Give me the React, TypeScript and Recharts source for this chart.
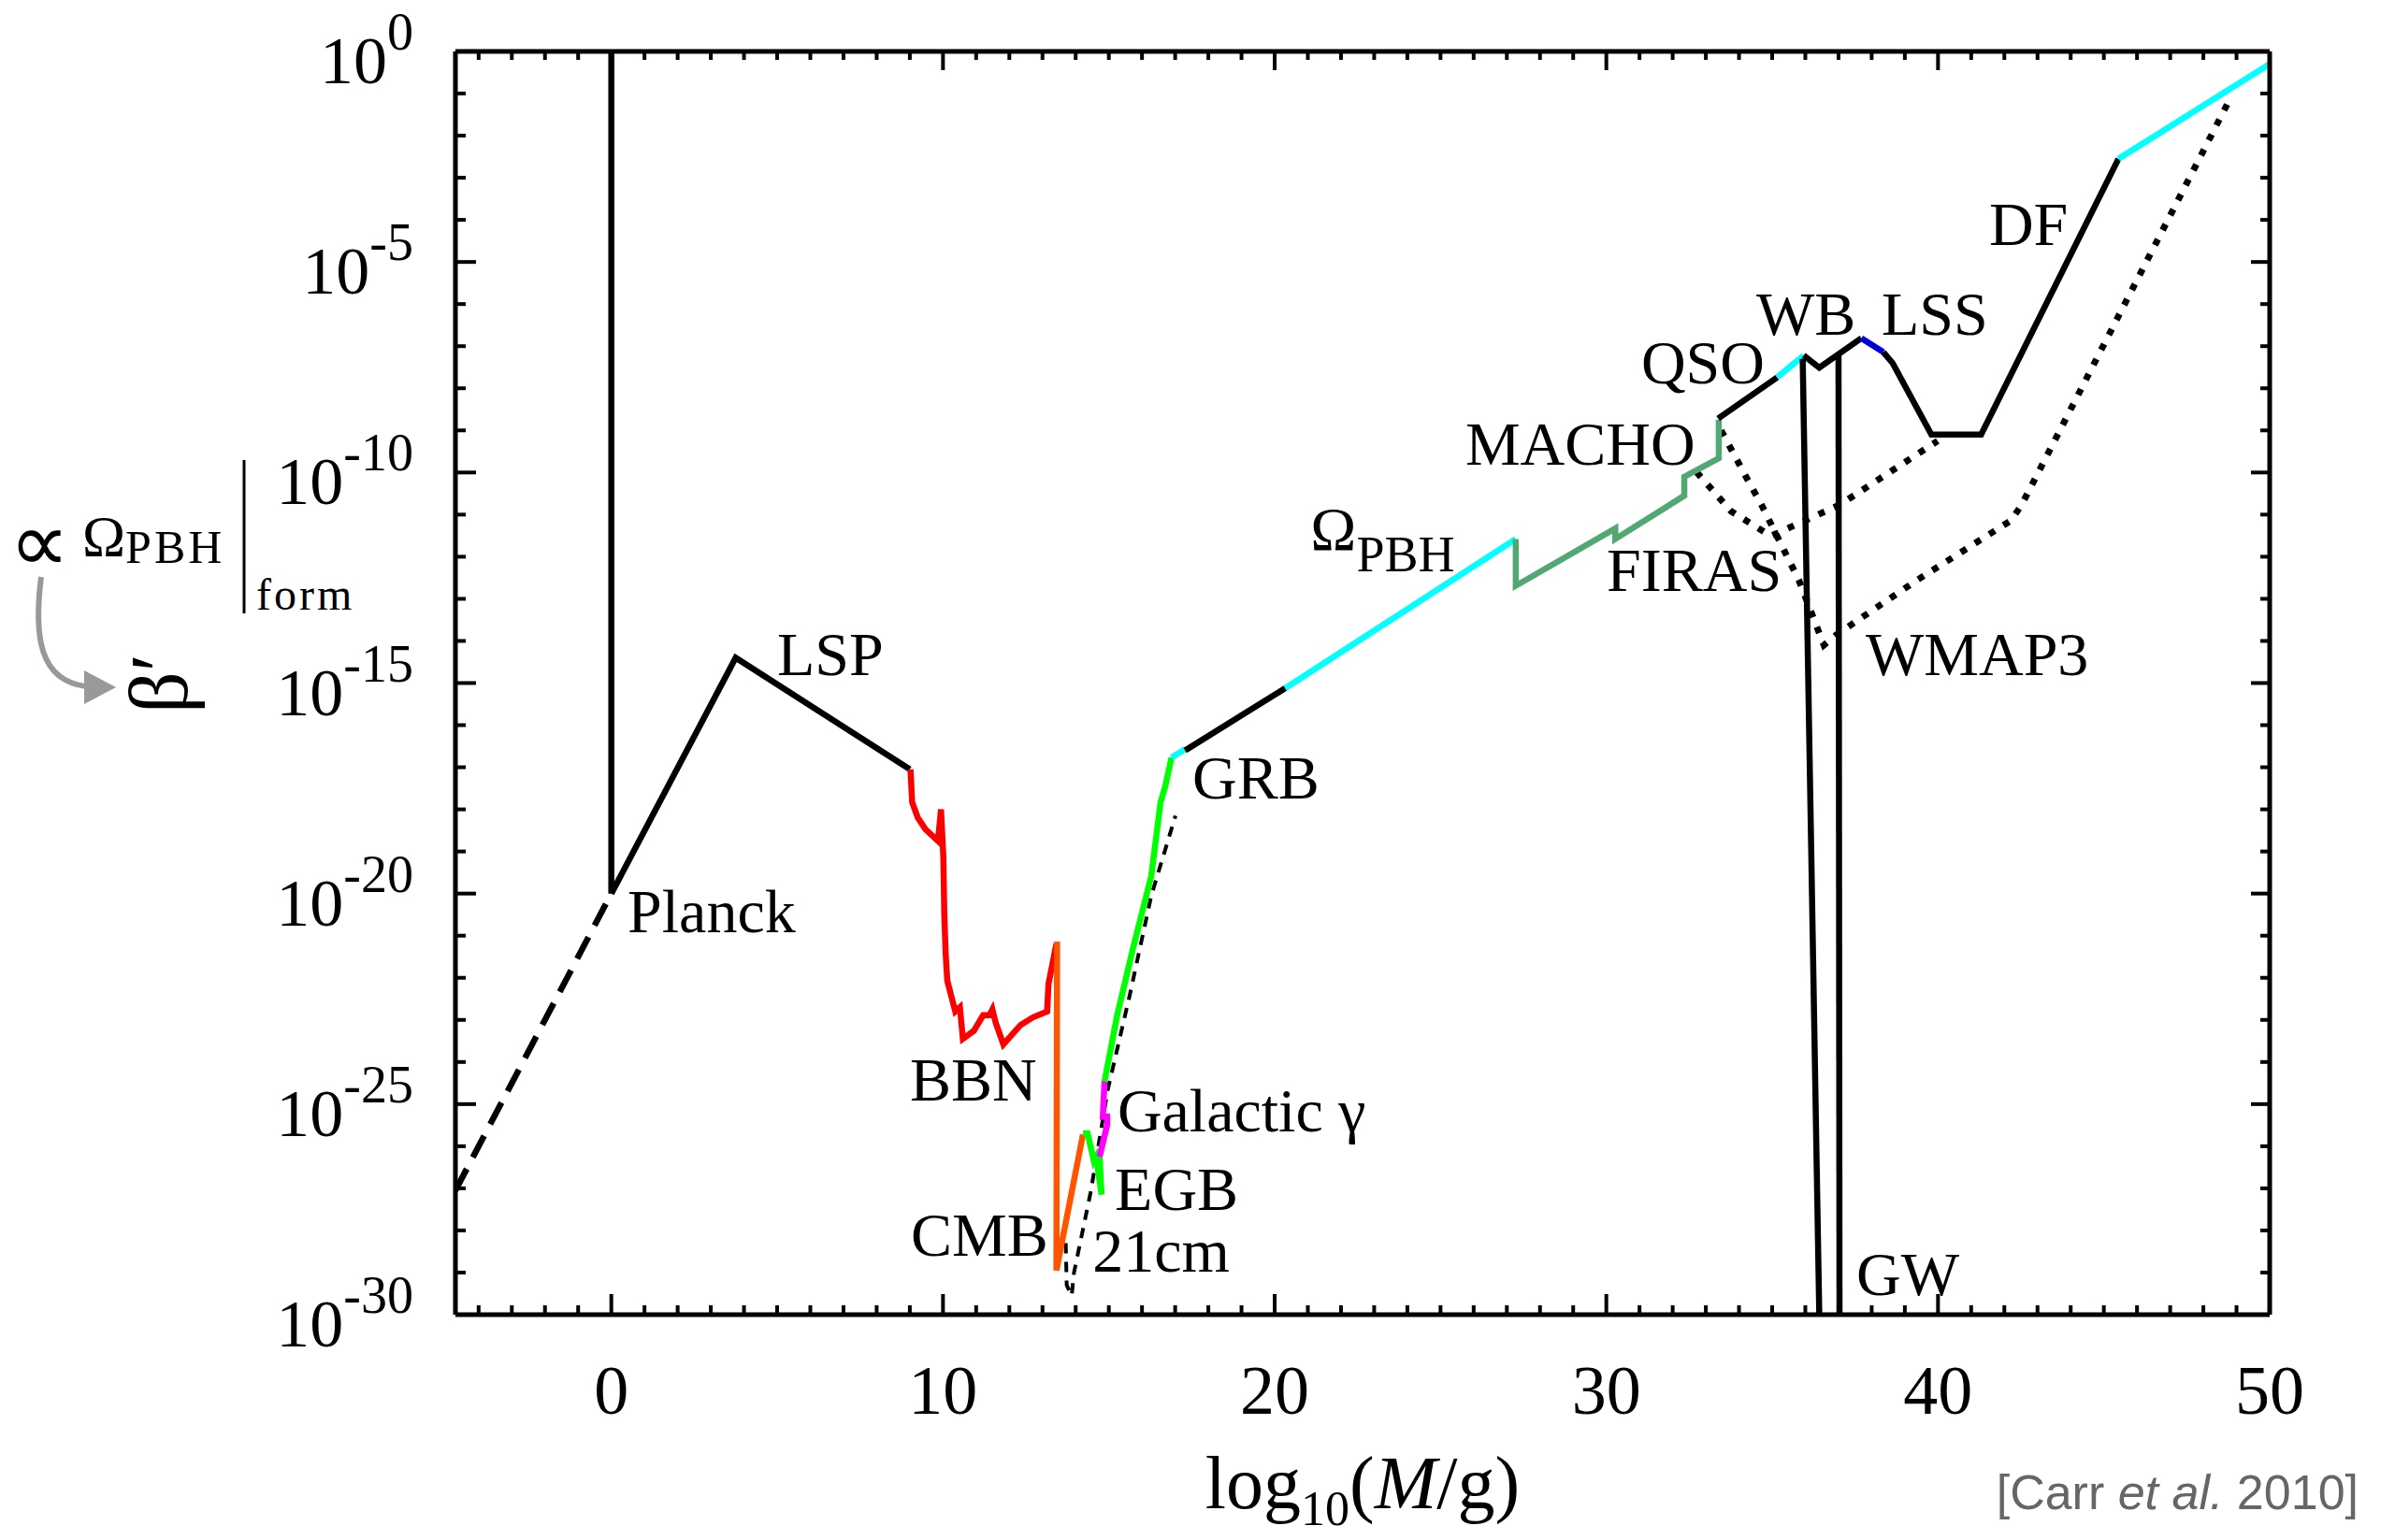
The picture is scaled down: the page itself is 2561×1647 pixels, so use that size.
import React from 'react';
import { LineChart, Line, XAxis, YAxis, ReferenceDot } from 'recharts';

const SERIF = "'Liberation Serif', 'DejaVu Serif', 'Times New Roman', serif";
const SANS = "'Liberation Sans', Arial, sans-serif";

// Each constraint is a list of [log10(M/g), log10(beta')] points
const planckExtrapolation = [[-4.7, -27.05], [0, -20]];
const planckWall = [[0, 0], [0, -20]];
const lspBound = [[0, -20], [3.75, -14.4], [9.0, -17.05]];
const bbnBound = [
  [9.02, -17.05], [9.07, -17.83], [9.24, -18.2], [9.47, -18.47], [9.85, -18.75],
  [9.94, -18.0], [10.01, -19.12], [10.04, -20.5], [10.08, -21.42], [10.13, -22.07],
  [10.37, -22.8], [10.51, -22.7], [10.6, -23.45], [10.93, -23.26], [11.21, -22.89],
  [11.4, -22.89], [11.49, -22.75], [11.59, -23.07], [11.82, -23.58], [12.34, -23.12],
  [12.71, -22.94], [13.14, -22.8], [13.18, -22.15], [13.42, -21.19],
];
const cmbBound = [[13.44, -21.14], [13.42, -28.95], [14.22, -25.72]];
const egbBound = [[14.22, -25.7], [14.36, -25.7], [14.55, -26.35], [14.62, -26.25], [14.78, -27.15], [14.72, -26.25]];
const galacticBound = [[14.72, -26.25], [14.95, -25.5], [14.95, -25.3], [14.82, -25.3], [14.87, -24.45]];
const gammaBound = [
  [14.87, -24.46], [15.25, -22.89], [15.39, -22.43], [15.72, -21.33],
  [16.28, -19.58], [16.56, -17.83], [16.7, -17.46], [16.89, -16.77],
];
const grbCyan = [[16.89, -16.77], [17.3, -16.57]];
const grbBound = [[17.3, -16.6], [20.32, -15.12]];
const omegaBound = [[20.32, -15.12], [27.27, -11.58]];
const machoBound = [
  [27.27, -11.58], [27.27, -12.69], [30.27, -11.33], [30.27, -11.58],
  [32.35, -10.55], [32.35, -10.1], [33.39, -9.66], [33.39, -8.75],
];
const qsoBound = [[33.37, -8.72], [35.15, -7.74]];
const qsoCyan = [[35.15, -7.74], [35.95, -7.22]];
const wbBound = [[35.95, -7.22], [36.42, -7.51], [37.69, -6.81]];
const lssBlue = [[37.69, -6.81], [38.35, -7.14]];
const lssBound = [[38.35, -7.14], [38.63, -7.4], [39.8, -9.1], [41.3, -9.1], [45.44, -2.55]];
const dfCyan = [[45.44, -2.55], [50, -0.3]];
const gwLeft = [[35.92, -7.3], [36.42, -30]];
const gwRight = [[37.0, -7.2], [37.03, -30]];
const wmap3Bound = [
  [33.46, -9.0], [34.21, -10.1], [34.68, -10.77], [35.8, -12.55], [36.56, -14.1],
  [36.94, -13.85], [39.38, -12.55], [42.2, -11.14], [42.52, -10.77], [48.86, -1.04],
];
const firasBound = [[32.72, -9.99], [33.76, -10.92], [34.96, -11.51], [37.03, -10.77], [39.99, -9.25]];
const cm21Bound = [
  [13.7, -28.3], [13.73, -29.3], [13.88, -29.55], [13.95, -29.0], [14.45, -27.1],
  [14.97, -24.65], [15.62, -22.45], [16.28, -20.05], [17.01, -18.15],
];

const majorMassTicks = [0, 10, 20, 30, 40, 50];
const massTicks = Array.from({ length: 55 }, (_, i) => i - 4);
const majorBetaTicks = [-30, -25, -20, -15, -10, -5, 0];
const betaTicks = Array.from({ length: 31 }, (_, i) => i - 30);

const curveLabels = [
  { text: 'Planck', logM: 0.49, logBeta: -20.92 },
  { text: 'LSP', logM: 5.0, logBeta: -14.81 },
  { text: 'BBN', logM: 9.0, logBeta: -24.92 },
  { text: 'CMB', logM: 9.03, logBeta: -28.6 },
  { text: '21cm', logM: 14.51, logBeta: -28.98 },
  { text: 'EGB', logM: 15.18, logBeta: -27.52 },
  { text: 'Galactic γ', logM: 15.26, logBeta: -25.65 },
  { text: 'GRB', logM: 17.52, logBeta: -17.74 },
  { text: 'MACHO', logM: 25.75, logBeta: -9.82 },
  { text: 'FIRAS', logM: 30.01, logBeta: -12.81 },
  { text: 'QSO', logM: 31.05, logBeta: -7.88 },
  { text: 'WB', logM: 34.52, logBeta: -6.73 },
  { text: 'LSS', logM: 38.3, logBeta: -6.73 },
  { text: 'WMAP3', logM: 37.82, logBeta: -14.81 },
  { text: 'GW', logM: 37.54, logBeta: -29.53 },
  { text: 'DF', logM: 41.54, logBeta: -4.6 },
];
const omegaLabel = { logM: 21.08, logBeta: -11.84 };

const toPts = (arr: number[][]) => arr.map(([logM, logBeta]) => ({ logM, logBeta }));

const LW = 6.5;
const DOTTED = '7 11';
const series = [
  { id: 'wmap3', data: wmap3Bound, color: '#000', width: 7, dash: DOTTED },
  { id: 'firas', data: firasBound, color: '#000', width: 7, dash: DOTTED },
  { id: '21cm', data: cm21Bound, color: '#000', width: 4, dash: '11 9' },
  { id: 'planckExt', data: planckExtrapolation, color: '#000', width: LW, dash: '26 14' },
  { id: 'planck', data: planckWall, color: '#000', width: LW },
  { id: 'lsp', data: lspBound, color: '#000', width: LW },
  { id: 'bbn', data: bbnBound, color: '#ff0000', width: LW },
  { id: 'cmb', data: cmbBound, color: '#ff5500', width: LW },
  { id: 'egb', data: egbBound, color: '#00ff00', width: LW },
  { id: 'galactic', data: galacticBound, color: '#ff00ff', width: LW },
  { id: 'gamma', data: gammaBound, color: '#00ff00', width: LW },
  { id: 'grbCyan', data: grbCyan, color: '#00ffff', width: LW },
  { id: 'grb', data: grbBound, color: '#000', width: LW },
  { id: 'omega', data: omegaBound, color: '#00ffff', width: LW },
  { id: 'macho', data: machoBound, color: '#52a872', width: LW },
  { id: 'qso', data: qsoBound, color: '#000', width: LW },
  { id: 'qsoCyan', data: qsoCyan, color: '#00ffff', width: LW },
  { id: 'wb', data: wbBound, color: '#000', width: LW },
  { id: 'lssBlue', data: lssBlue, color: '#0000dd', width: LW },
  { id: 'lss', data: lssBound, color: '#000', width: LW },
  { id: 'df', data: dfCyan, color: '#00ffff', width: LW },
  { id: 'gwLeft', data: gwLeft, color: '#000', width: LW },
  { id: 'gwRight', data: gwRight, color: '#000', width: LW },
];

const axisStyle = { stroke: '#000', strokeWidth: 5 };
const TICK_W = 4;

const BottomTick = ({ x, y, payload }: any) => {
  const major = majorMassTicks.includes(payload.value);
  return (
    <g>
      <line x1={x} x2={x} y1={y} y2={y - (major ? 22 : 10)} stroke="#000" strokeWidth={TICK_W} />
      {major && (
        <text x={x} y={y + 106} textAnchor="middle" fontSize={74} fontFamily={SERIF} fill="#000">
          {payload.value}
        </text>
      )}
    </g>
  );
};

const TopTick = ({ x, y, payload }: any) => {
  const major = majorMassTicks.includes(payload.value);
  return <line x1={x} x2={x} y1={y} y2={y + (major ? 20 : 9)} stroke="#000" strokeWidth={TICK_W} />;
};

const LeftTick = ({ x, y, payload }: any) => {
  const major = majorBetaTicks.includes(payload.value);
  return (
    <g>
      <line x1={x} x2={x + (major ? 22 : 11)} y1={y} y2={y} stroke="#000" strokeWidth={TICK_W} />
      {major && (
        <text x={x - 45} y={y + 34} textAnchor="end" fontSize={72} fontFamily={SERIF} fill="#000">
          10
          <tspan dy={-36} fontSize={56}>{payload.value === 0 ? '0' : `-${-payload.value}`}</tspan>
        </text>
      )}
    </g>
  );
};

const RightTick = ({ x, y, payload }: any) => {
  const major = majorBetaTicks.includes(payload.value);
  return <line x1={x} x2={x - (major ? 20 : 10)} y1={y} y2={y} stroke="#000" strokeWidth={TICK_W} />;
};

export default function App() {
  return (
    <div style={{ position: 'absolute', left: 0, top: 0, width: 2561, height: 1647, background: '#fff' }}>
      <LineChart width={2561} height={1647} margin={{ top: 15, right: 94, bottom: 201, left: 447 }}>
        <XAxis
          xAxisId="bottom"
          dataKey="logM"
          type="number"
          domain={[-4.7, 50]}
          ticks={massTicks}
          interval={0}
          allowDataOverflow
          height={40}
          tickSize={0}
          tickMargin={0}
          tickLine={false}
          axisLine={axisStyle}
          tick={(p: any) => <BottomTick {...p} />}
        />
        <XAxis
          xAxisId="top"
          orientation="top"
          dataKey="logM"
          type="number"
          domain={[-4.7, 50]}
          ticks={massTicks}
          interval={0}
          allowDataOverflow
          height={40}
          tickSize={0}
          tickMargin={0}
          tickLine={false}
          axisLine={axisStyle}
          tick={(p: any) => <TopTick {...p} />}
        />
        <YAxis
          yAxisId="left"
          type="number"
          domain={[-30, 0]}
          ticks={betaTicks}
          interval={0}
          allowDataOverflow
          width={40}
          tickSize={0}
          tickMargin={0}
          tickLine={false}
          axisLine={axisStyle}
          tick={(p: any) => <LeftTick {...p} />}
        />
        <YAxis
          yAxisId="right"
          orientation="right"
          type="number"
          domain={[-30, 0]}
          ticks={betaTicks}
          interval={0}
          allowDataOverflow
          width={40}
          tickSize={0}
          tickMargin={0}
          tickLine={false}
          axisLine={axisStyle}
          tick={(p: any) => <RightTick {...p} />}
        />
        {series.map((s) => (
          <Line
            key={s.id}
            xAxisId="bottom"
            yAxisId="left"
            data={toPts(s.data)}
            dataKey="logBeta"
            type="linear"
            stroke={s.color}
            strokeWidth={s.width}
            strokeDasharray={s.dash}
            strokeLinejoin="miter"
            strokeLinecap="butt"
            dot={false}
            activeDot={false}
            legendType="none"
            isAnimationActive={false}
          />
        ))}
        {curveLabels.map((l) => (
          <ReferenceDot
            key={l.text}
            xAxisId="bottom"
            yAxisId="left"
            x={l.logM}
            y={l.logBeta}
            r={1}
            ifOverflow="visible"
            shape={(p: any) => (
              <text x={p.cx} y={p.cy} fontSize={66} fontFamily={SERIF} fill="#000">
                {l.text}
              </text>
            )}
          />
        ))}
        <ReferenceDot
          xAxisId="bottom"
          yAxisId="left"
          x={omegaLabel.logM}
          y={omegaLabel.logBeta}
          r={1}
          ifOverflow="visible"
          shape={(p: any) => (
            <text x={p.cx} y={p.cy} fontSize={66} fontFamily={SERIF} fill="#000">
              Ω<tspan dy={23} fontSize={54}>PBH</tspan>
            </text>
          )}
        />
      </LineChart>

      {/* axis titles and citation */}
      <svg
        width={2561}
        height={1647}
        style={{ position: 'absolute', left: 0, top: 0, pointerEvents: 'none' }}
        fontFamily={SERIF}
      >
        <text x={10} y={611} fontSize={90} fontFamily="'DejaVu Sans', sans-serif" fill="#000">∝</text>
        <text x={88} y={594} fontSize={62} fill="#000">
          Ω<tspan dy={8} fontSize={50} letterSpacing={3}>PBH</tspan>
        </text>
        <line x1={261} x2={261} y1={492} y2={656} stroke="#000" strokeWidth={3} />
        <text x={274} y={652} fontSize={48} letterSpacing={3} fill="#000">form</text>
        <path d="M44 617 C36 680 42 728 92 734" stroke="#999" strokeWidth={6} fill="none" />
        <polygon points="90,717 124,735 90,753" fill="#999" />
        <text transform="translate(200 731) rotate(-90)" textAnchor="middle" fontSize={88} fill="#000">
          β′
        </text>

        <text x={1457} y={1613} textAnchor="middle" fontSize={80} fill="#000">
          log<tspan dy={18} fontSize={52}>10</tspan>
          <tspan dy={-18}>(</tspan>
          <tspan fontStyle="italic">M</tspan>/g)
        </text>
        <text x={2522} y={1614} textAnchor="end" fontSize={52} fontFamily={SANS} fill="#666">
          [Carr <tspan fontStyle="italic">et al.</tspan> 2010]
        </text>
      </svg>
    </div>
  );
}
